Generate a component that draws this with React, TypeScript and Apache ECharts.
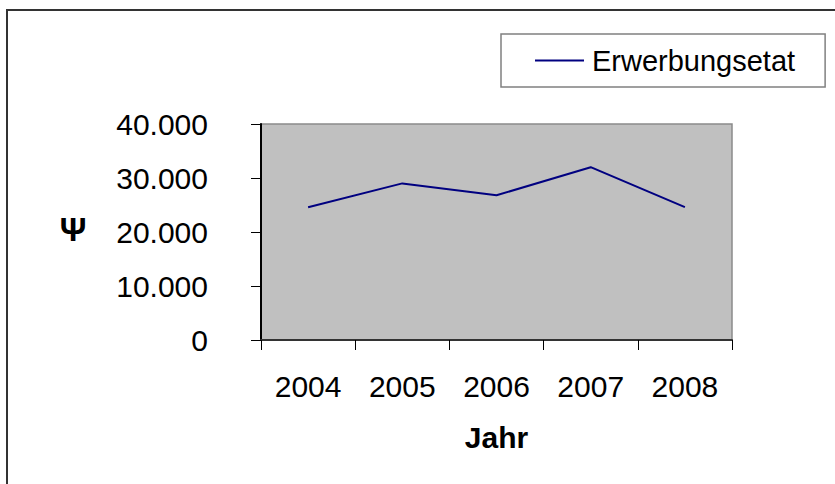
import React, { useEffect, useRef } from "react";
import * as echarts from "echarts";

const years = ["2004", "2005", "2006", "2007", "2008"];
const erwerbungsetat = [24600, 29000, 26800, 32000, 24600];
const seriesName = "Erwerbungsetat";
const xAxisTitle = "Jahr";
const yAxisTitle = "Ψ";

const FONT = "'Liberation Sans', Arial, Helvetica, sans-serif";

function fmt(v: number): string {
  return String(v).replace(/\B(?=(\d{3})+(?!\d))/g, ".");
}

export default function App() {
  const ref = useRef<HTMLDivElement>(null);
  useEffect(() => {
    if (!ref.current) return;
    const chart = echarts.init(ref.current, undefined, { renderer: "svg" });
    chart.setOption({
      animation: false,
      backgroundColor: "#ffffff",
      textStyle: { fontFamily: FONT },
      grid: {
        show: true,
        left: 261,
        right: 103,
        top: 124,
        bottom: 144,
        backgroundColor: "#C0C0C0",
        borderColor: "#8a8a8a",
        borderWidth: 1.5,
      },
      legend: {
        show: true,
        left: 501,
        top: 34,
        padding: [12, 30, 12, 34],
        itemWidth: 49,
        itemHeight: 14,
        borderColor: "#808080",
        borderWidth: 1.5,
        backgroundColor: "#ffffff",
        borderRadius: 0,
        textStyle: { fontSize: 29, color: "#000", fontFamily: FONT, padding: [0, 0, 0, 3] },
        data: [{ name: seriesName, icon: "path://M0,0L49,0L49,2L0,2Z", itemStyle: { color: "#000080" } }],
      },
      xAxis: {
        type: "category",
        data: years,
        boundaryGap: true,
        name: xAxisTitle,
        nameLocation: "middle",
        nameGap: 82,
        nameTextStyle: { fontSize: 30, fontWeight: "bold", color: "#000", fontFamily: FONT },
        axisLine: { show: true, lineStyle: { color: "#333", width: 2 } },
        axisTick: { show: true, length: 10, alignWithLabel: false, lineStyle: { color: "#000", width: 1 } },
        axisLabel: { fontSize: 30, color: "#000", margin: 31, fontFamily: FONT },
        splitLine: { show: false },
      },
      yAxis: {
        type: "value",
        min: 0,
        max: 40000,
        interval: 10000,
        axisLine: { show: true, lineStyle: { color: "#000", width: 2 } },
        axisTick: { show: true, length: 10, lineStyle: { color: "#000", width: 1 } },
        axisLabel: { fontSize: 30, color: "#000", margin: 53, fontFamily: FONT, formatter: (v: number) => fmt(v) },
        splitLine: { show: false },
      },
      graphic: [
        {
          type: "line",
          shape: { x1: 7, y1: 10, x2: 7, y2: 484 },
          style: { stroke: "#333", lineWidth: 2 },
          silent: true,
        },
        {
          type: "line",
          shape: { x1: 6, y1: 10, x2: 835, y2: 10 },
          style: { stroke: "#333", lineWidth: 2 },
          silent: true,
        },
        {
          type: "text",
          x: 73,
          y: 229,
          style: {
            text: yAxisTitle,
            fontSize: 33,
            fontWeight: "bold",
            fill: "#000",
            fontFamily: FONT,
            textAlign: "center",
            textVerticalAlign: "middle",
          },
        },
      ],
      series: [
        {
          name: seriesName,
          type: "line",
          data: erwerbungsetat,
          symbol: "none",
          lineStyle: { color: "#000080", width: 2 },
          itemStyle: { color: "#000080" },
        },
      ],
    });
    return () => chart.dispose();
  }, []);
  return (
    <div
      ref={ref}
      style={{ position: "fixed", left: 0, top: 0, width: 835, height: 484, background: "#fff" }}
    />
  );
}
